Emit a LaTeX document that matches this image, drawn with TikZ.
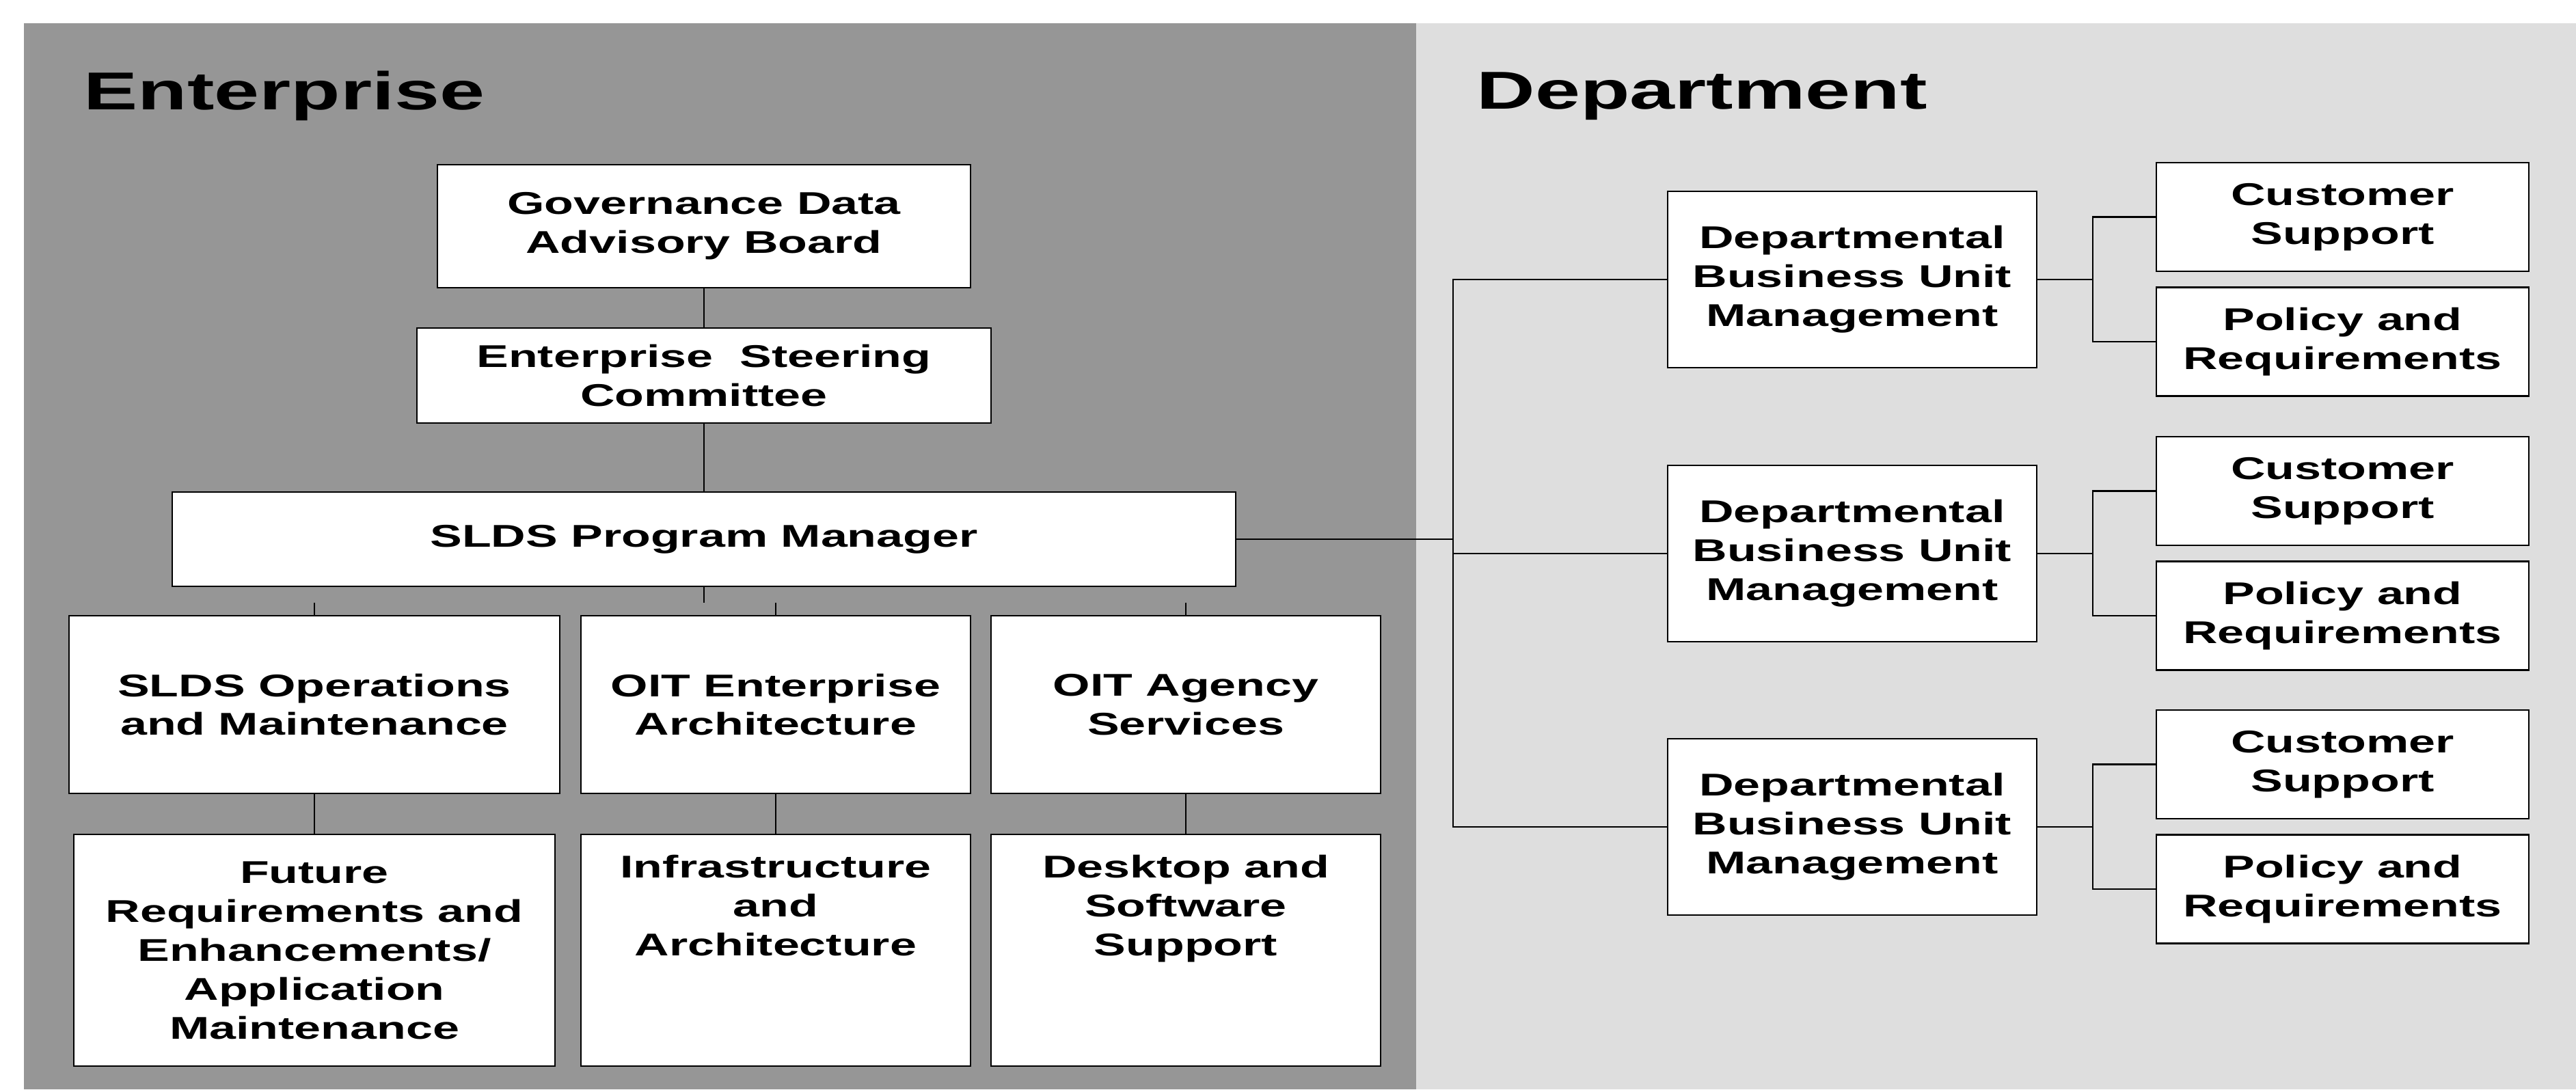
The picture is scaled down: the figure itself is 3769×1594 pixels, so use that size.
\documentclass[tikz,border=0pt]{standalone}
\usepackage{fontspec}
\setmainfont{Liberation Sans}[FakeStretch=1.52]
\usepackage{tikz}
\newcommand{\boxfont}{\fontsize{13.1pt}{16.2pt}\selectfont\bfseries}
\newcommand{\titlefont}{\fontsize{22.2pt}{26pt}\selectfont\bfseries}
\definecolor{entgray}{gray}{0.59}
\definecolor{deptgray}{gray}{0.87}

\begin{document}
\begin{tikzpicture}[x=0.1mm,y=-0.1mm,
  unit/.style={draw,line width=0.8pt,fill=white,inner sep=0pt,align=center,font=\boxfont},
  title/.style={anchor=base west,inner sep=0pt,font=\titlefont},
  link/.style={line width=0.6pt}]

\useasboundingbox (0,0) rectangle (3769,1594);
\fill[white] (0,0) rectangle (3769,1594);
\fill[entgray] (35,34) rectangle (2072,1594);
\fill[deptgray] (2072,34) rectangle (3769,1594);

\node[title] (enttitle) at (122,160) {Enterprise};
\node[title] (depttitle) at (2160,159) {Department};

\node[unit,minimum width=78mm,minimum height=18mm] (gov) at (1030,331) {Governance Data\\Advisory Board};
\node[unit,minimum width=84mm,minimum height=13.9mm] (steer) at (1030,549.5) {Enterprise\ \ Steering\\Committee};
\node[unit,minimum width=155.6mm,minimum height=13.8mm] (pm) at (1030,789) {SLDS Program Manager};

\node[unit,minimum width=71.8mm,minimum height=26mm] (ops) at (460,1031) {SLDS Operations\\and Maintenance};
\node[unit,minimum width=57mm,minimum height=26mm] (oit) at (1135,1031) {OIT Enterprise\\Architecture};
\node[unit,minimum width=57mm,minimum height=26mm] (agency) at (1735,1031) {OIT Agency\\Services};

\node[unit,minimum width=70.4mm,minimum height=33.9mm] (future) at (460,1390.5) {Future\\Requirements and\\Enhancements/\\Application\\Maintenance};
\node[unit,minimum width=57mm,minimum height=33.9mm] (infra) at (1135,1390.5) {Infrastructure\\and\\Architecture\\\strut\\\strut};
\node[unit,minimum width=57mm,minimum height=33.9mm] (desktop) at (1735,1390.5) {Desktop and\\Software\\Support\\\strut\\\strut};

\node[unit,minimum width=54mm,minimum height=25.8mm] (dbu1) at (2710,409) {Departmental\\Business Unit\\Management};
\node[unit,minimum width=54mm,minimum height=25.8mm] (dbu2) at (2710,810) {Departmental\\Business Unit\\Management};
\node[unit,minimum width=54mm,minimum height=25.8mm] (dbu3) at (2710,1210) {Departmental\\Business Unit\\Management};

\node[unit,minimum width=54.5mm,minimum height=15.9mm] (cs1) at (3427.5,317.5) {Customer\\Support};
\node[unit,minimum width=54.5mm,minimum height=15.9mm] (pr1) at (3427.5,500) {Policy and\\Requirements};
\node[unit,minimum width=54.5mm,minimum height=15.9mm] (cs2) at (3427.5,718.5) {Customer\\Support};
\node[unit,minimum width=54.5mm,minimum height=15.9mm] (pr2) at (3427.5,901) {Policy and\\Requirements};
\node[unit,minimum width=54.5mm,minimum height=15.9mm] (cs3) at (3427.5,1118.5) {Customer\\Support};
\node[unit,minimum width=54.5mm,minimum height=15.9mm] (pr3) at (3427.5,1301) {Policy and\\Requirements};

\coordinate (pmtick) at (1030,882);
\coordinate (opstick) at (460,882);
\coordinate (oittick) at (1135,882);
\coordinate (agencytick) at (1735,882);
\coordinate (deptbus) at (2126,789);
\coordinate (join1) at (3062,409);
\coordinate (join2) at (3062,810);
\coordinate (join3) at (3062,1210);

\draw[link] (gov) -- (steer);
\draw[link] (steer) -- (pm);
\draw[link] (pm) -- (pmtick);
\draw[link] (opstick) -- (ops);
\draw[link] (oittick) -- (oit);
\draw[link] (agencytick) -- (agency);
\draw[link] (ops) -- (future);
\draw[link] (oit) -- (infra);
\draw[link] (agency) -- (desktop);

\draw[link] (pm) -- (deptbus);
\draw[link] (dbu1) -| (deptbus) |- (dbu3);
\draw[link] (deptbus) |- (dbu2);

\draw[link] (dbu1) -- (join1);
\draw[link] (cs1) -| (join1) |- (pr1);
\draw[link] (dbu2) -- (join2);
\draw[link] (cs2) -| (join2) |- (pr2);
\draw[link] (dbu3) -- (join3);
\draw[link] (cs3) -| (join3) |- (pr3);
\end{tikzpicture}
\end{document}
